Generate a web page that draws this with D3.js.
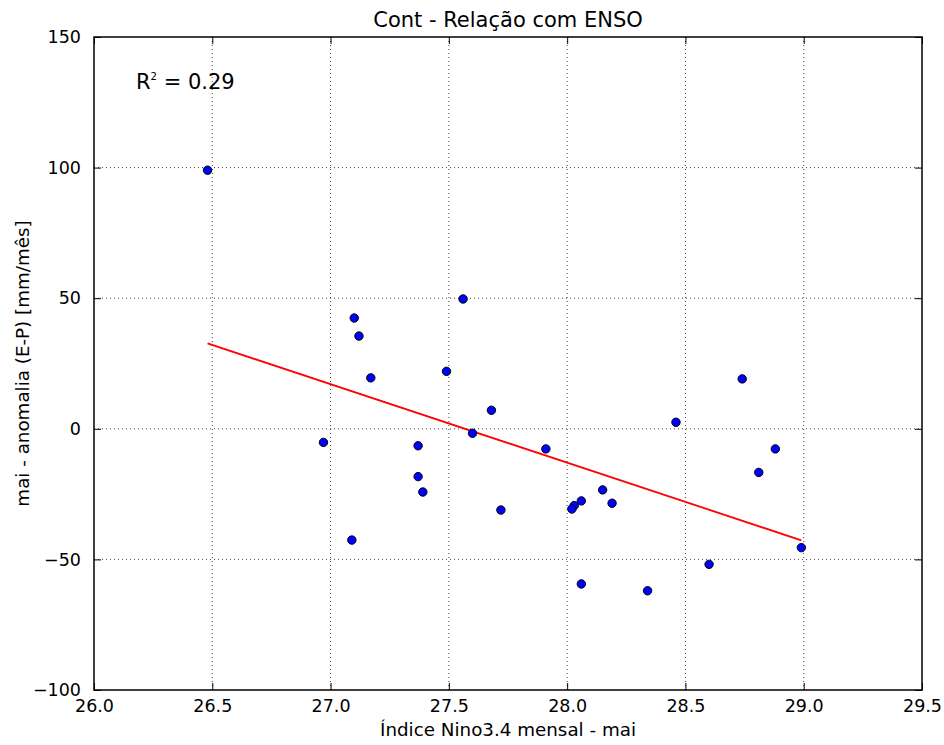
<!DOCTYPE html>
<html>
<head>
    <meta charset="utf-8">
    <script src="https://cdn.jsdelivr.net/npm/d3@7/dist/d3.min.js"></script>

    <style type="text/css">
        body {
            margin: 0;
            background-color: white; }

        .axis path {
            display: none; }

        .axis line {
            stroke: black;
            stroke-width: 1; }

        .axis text {
            font-family: "DejaVu Sans";
            font-size: 17.5px;
            fill: black; }

        .grid line {
            stroke: #444;
            stroke-width: 1;
            stroke-dasharray: 1, 3; }

        .frame {
            fill: none;
            stroke: black;
            stroke-width: 1.5; }

        .dot {
            fill: #0000ff;
            stroke: black;
            stroke-width: 1; }

        .fit {
            stroke: red;
            stroke-width: 1.8;
            fill: none; }

        text.title {
            font-family: "DejaVu Sans";
            font-size: 21px;
            text-anchor: middle; }

        text.label {
            font-family: "DejaVu Sans";
            font-size: 18.3px;
            text-anchor: middle; }

        text.r2 {
            font-family: "DejaVu Sans";
            font-size: 21px; }
    </style>
</head>

<body>
    <div id="chart"></div>

    <script type="text/javascript">
        // data: Nino3.4 index (x) vs anomaly E-P (y)
        var nino = [26.48, 27.56, 27.10, 27.12, 27.17, 27.49, 27.60, 26.97, 27.37, 27.37,
                    27.39, 27.09, 27.68, 28.46, 28.74, 27.91, 28.88, 28.81, 28.15, 27.72,
                    28.06, 28.03, 28.02, 28.19, 28.99, 28.60, 28.06, 28.34];
        var anomalia = [99.0, 49.7, 42.4, 35.5, 19.5, 22.0, -1.7, -5.2, -6.5, -18.3,
                        -24.2, -42.6, 7.1, 2.5, 19.1, -7.7, -7.7, -16.7, -23.4, -31.1,
                        -27.6, -29.4, -30.7, -28.5, -45.5, -51.9, -59.4, -62.0];
        var xTicks = [26.0, 26.5, 27.0, 27.5, 28.0, 28.5, 29.0, 29.5];
        var yTicks = [-100, -50, 0, 50, 100, 150];
        var r2Label = "0.29";

        var margin = { top: 37, left: 94, bottom: 55, right: 22 };
        var width = 944 - margin.left - margin.right;
        var height = 745 - margin.top - margin.bottom;

        var svg = d3.select("#chart").append("svg")
            .attr("width", width + margin.left + margin.right)
            .attr("height", height + margin.top + margin.bottom)
            .append("g")
            .attr("transform", "translate(" + margin.left + ", " + margin.top + ")");

        var x = d3.scaleLinear().domain([26.0, 29.5]).range([0, width]);
        var y = d3.scaleLinear().domain([-100, 150]).range([height, 0]);

        var dataset = nino.map(function (v, i) { return { x: v, y: anomalia[i] }; });

        // grid
        svg.append("g")
            .attr("class", "grid")
            .selectAll("line")
            .data(xTicks.slice(1, -1))
            .enter().append("line")
            .attr("x1", function (d) { return x(d); })
            .attr("x2", function (d) { return x(d); })
            .attr("y1", 0)
            .attr("y2", height);

        svg.append("g")
            .attr("class", "grid")
            .selectAll("line")
            .data(yTicks.slice(1, -1))
            .enter().append("line")
            .attr("x1", 0)
            .attr("x2", width)
            .attr("y1", function (d) { return y(d); })
            .attr("y2", function (d) { return y(d); });

        // axes, ticks pointing inwards on all four sides
        var tick = 7;
        svg.append("g")
            .attr("class", "axis")
            .attr("transform", "translate(0," + height + ")")
            .call(d3.axisBottom(x).tickValues(xTicks).tickFormat(d3.format(".1f"))
                .tickSizeInner(-tick).tickSizeOuter(0).tickPadding(10));

        svg.append("g")
            .attr("class", "axis")
            .call(d3.axisTop(x).tickValues(xTicks).tickFormat("")
                .tickSizeInner(-tick).tickSizeOuter(0));

        svg.append("g")
            .attr("class", "axis")
            .call(d3.axisLeft(y).tickValues(yTicks).tickFormat(d3.format("d"))
                .tickSizeInner(-tick).tickSizeOuter(0).tickPadding(13));

        svg.append("g")
            .attr("class", "axis")
            .attr("transform", "translate(" + width + ",0)")
            .call(d3.axisRight(y).tickValues(yTicks).tickFormat("")
                .tickSizeInner(-tick).tickSizeOuter(0));

        // least squares fit over the data range
        var mx = d3.mean(dataset, function (d) { return d.x; });
        var my = d3.mean(dataset, function (d) { return d.y; });
        var sxy = d3.sum(dataset, function (d) { return (d.x - mx) * (d.y - my); });
        var sxx = d3.sum(dataset, function (d) { return (d.x - mx) * (d.x - mx); });
        var slope = sxy / sxx;
        var intercept = my - slope * mx;
        var ext = d3.extent(dataset, function (d) { return d.x; });

        svg.append("line")
            .attr("class", "fit")
            .attr("x1", x(ext[0]))
            .attr("y1", y(intercept + slope * ext[0]))
            .attr("x2", x(ext[1]))
            .attr("y2", y(intercept + slope * ext[1]));

        svg.selectAll(".dot")
            .data(dataset)
            .enter().append("circle")
            .attr("class", "dot")
            .attr("cx", function (d) { return x(d.x); })
            .attr("cy", function (d) { return y(d.y); })
            .attr("r", 4.2);

        svg.append("rect")
            .attr("class", "frame")
            .attr("width", width)
            .attr("height", height);

        // texts
        svg.append("text")
            .attr("class", "title")
            .attr("x", width / 2)
            .attr("y", -10)
            .text("Cont - Relação com ENSO");

        svg.append("text")
            .attr("class", "label")
            .attr("x", width / 2)
            .attr("y", height + 46)
            .text("Índice Nino3.4 mensal - mai");

        svg.append("text")
            .attr("class", "label")
            .attr("transform", "rotate(-90)")
            .attr("x", -height / 2)
            .attr("y", -65)
            .text("mai - anomalia (E-P) [mm/mês]");

        var r2 = svg.append("text")
            .attr("class", "r2")
            .attr("x", 42)
            .attr("y", 52);
        r2.append("tspan").text("R");
        r2.append("tspan").text("2")
            .attr("dy", -9)
            .style("font-size", "10px");
        r2.append("tspan").text(" = " + r2Label)
            .attr("dy", 9);
    </script>
</body>
</html>
